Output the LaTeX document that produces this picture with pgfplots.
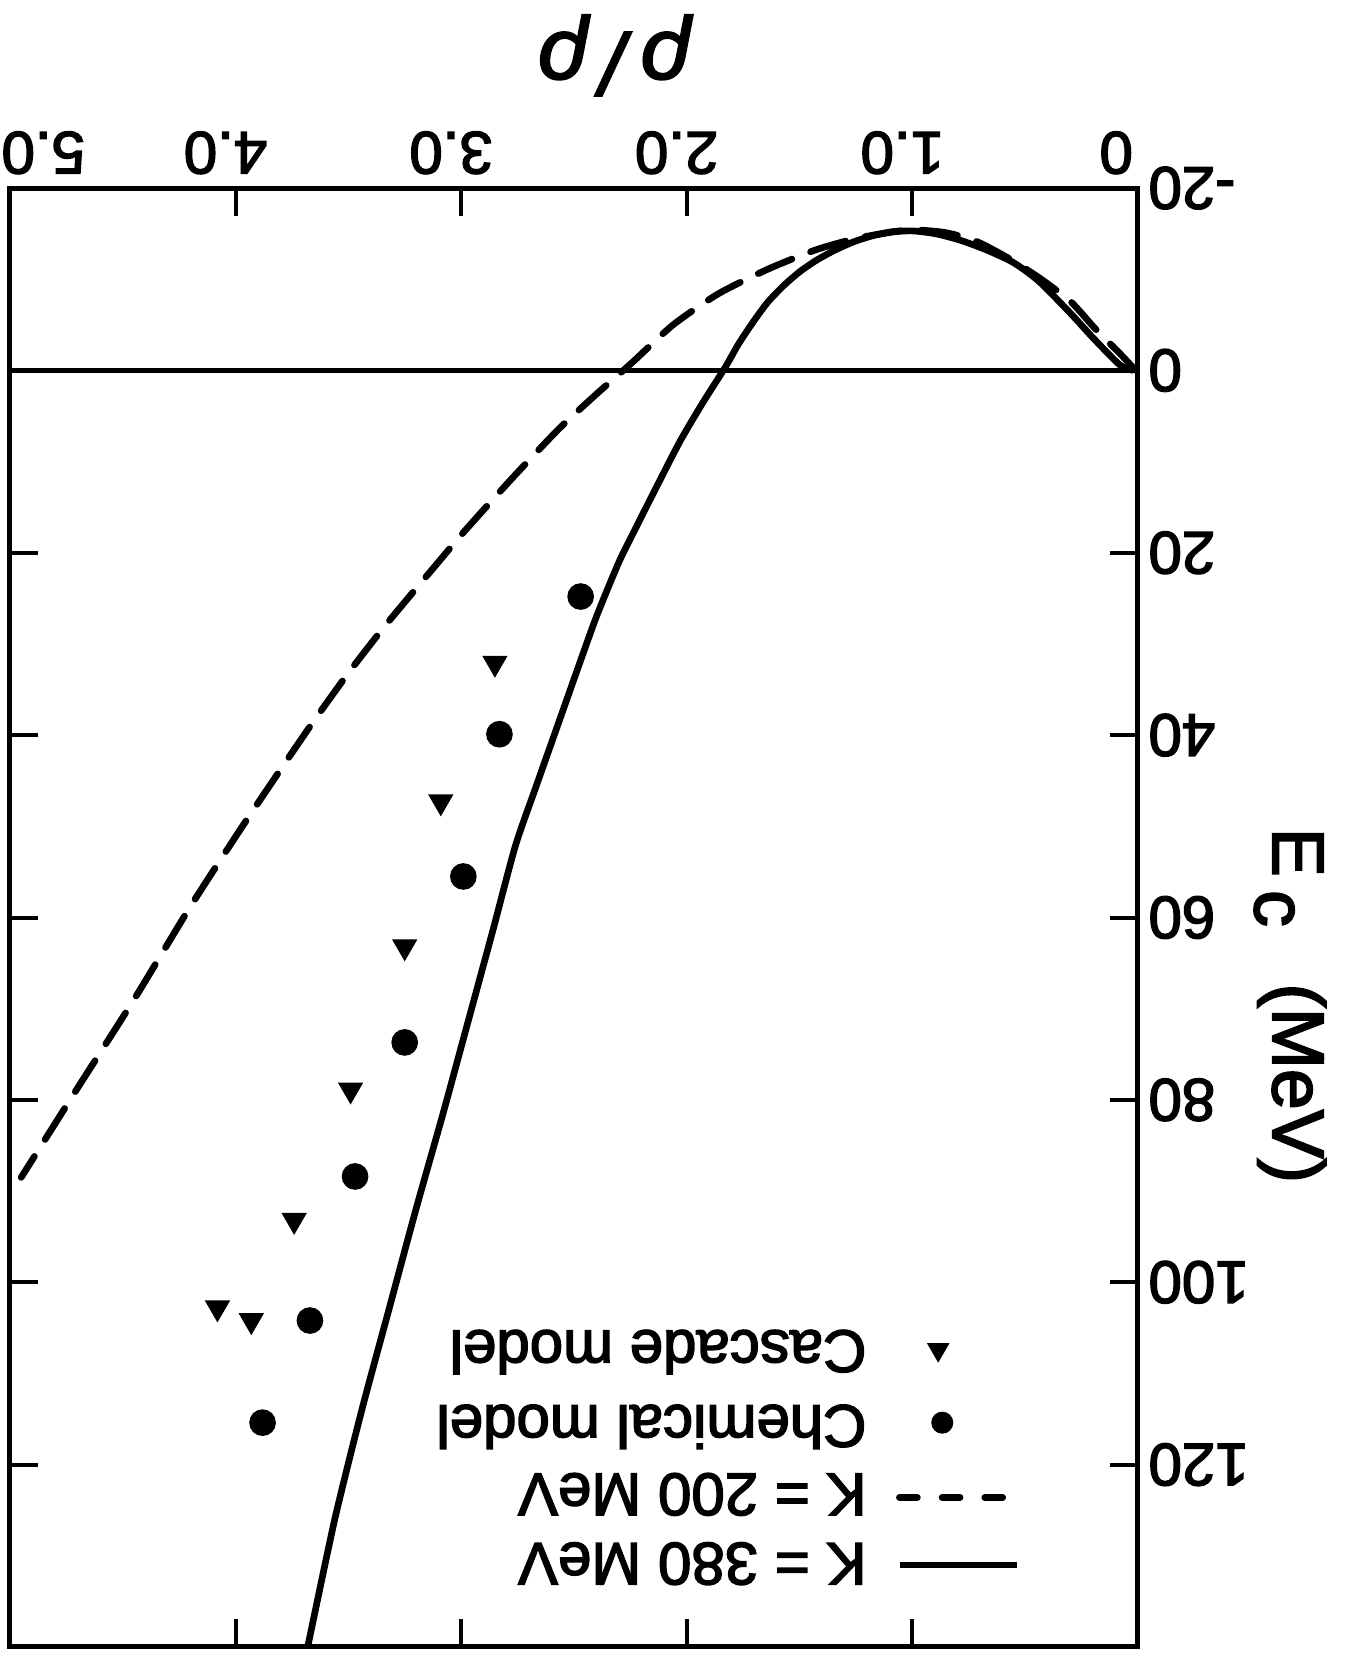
\documentclass[border=0pt]{standalone}
\usepackage{fontspec}
\setmainfont{Liberation Sans}
\newfontfamily\lbl{Liberation Sans}[FakeBold=2.5]
\usepackage{pgfplots}
\pgfplotsset{compat=1.18}
\begin{document}
\begin{tikzpicture}
\begin{axis}[
 width=338.4pt, height=437.7pt, scale only axis,
 xmin=0, xmax=5, ymin=-20, ymax=140,
 x dir=reverse, y dir=reverse,
 clip=false,
 axis line style={line width=1.5pt},
 major tick style={line width=1.2pt, black},
 major tick length=8.5pt,
 tick align=inside,
 xticklabel pos=upper, yticklabel pos=right,
 xtick={0,1,2,3,4}, xticklabels={\hspace{7pt}0,1.0,2.0,3.0,4.0},
 extra x ticks={5}, extra x tick labels={5.0},
 extra x tick style={xticklabel style={xshift=-13pt}},
 ytick={-20,0,20,40,60,80,100,120},
 yticklabels={-20,0,20,40,60,80,100,120},
 xticklabel style={rotate=180, anchor=north, font=\lbl\fontsize{18}{20}\selectfont, inner sep=4pt, xshift=3pt},
 yticklabel style={rotate=180, anchor=east, font=\lbl\fontsize{18}{20}\selectfont, inner xsep=3pt},
]
% zero line
\addplot[line width=1.6pt] coordinates {(0,0) (5,0)};
% K = 380 MeV
\addplot[line width=2pt, line join=round, smooth, tension=0.4] coordinates {
(0.02,0.0) (0.08,-0.6) (0.20,-3.6) (0.30,-6.3) (0.44,-9.8) (0.55,-11.8) (0.67,-13.2) (0.79,-14.3) (0.90,-15.0) (1.00,-15.3) (1.08,-15.2) (1.17,-14.8) (1.26,-14.1) (1.35,-13.1) (1.43,-12.0) (1.50,-10.8) (1.57,-9.3) (1.64,-7.5) (1.70,-5.5) (1.77,-2.9) (1.83,-0.3) (1.93,3.6) (2.03,7.8) (2.13,12.6) (2.23,17.5) (2.30,21.0) (2.40,27.0) (2.49,33.2) (2.58,39.5) (2.67,45.8) (2.76,52.2) (2.86,61.5) (2.97,71.5) (3.08,81.5) (3.20,92.0) (3.32,103.0) (3.44,114.0) (3.56,126.0) (3.68,140.0)};
% K = 200 MeV
\addplot[line width=2pt, dash pattern=on 11pt off 6pt, line cap=round, smooth, tension=0.4] coordinates {
(0.01,0) (0.07,-1.6) (0.19,-4.6) (0.30,-7.6) (0.44,-10.2) (0.58,-12.4) (0.72,-14.2) (0.85,-15.1) (0.98,-15.4) (1.09,-15.2) (1.26,-14.4) (1.43,-13.2) (1.64,-11.1) (1.86,-8.4) (2.06,-5.0) (2.24,-0.9) (2.40,2.6) (2.57,6.5) (2.78,12.0) (2.98,17.5) (3.10,21.0) (3.33,27.8) (3.50,33.2) (3.66,38.7) (3.82,44.5) (3.98,50.4) (4.20,58.8) (4.45,69.0) (4.70,78.7) (4.95,88.5)};
% Chemical model
\addplot[only marks, mark=*, mark size=3.8pt] coordinates {
(2.47,24.8) (2.83,39.9) (2.99,55.5) (3.25,73.7) (3.47,88.4) (3.67,104.2) (3.88,115.4)};
% Cascade model
\addplot[only marks, mark=triangle*, mark size=4pt, mark options={rotate=180}] coordinates {
(2.85,32.1) (3.09,47.3) (3.25,63.2) (3.49,78.9) (3.74,93.2) (3.93,104.2) (4.08,102.8)};
% legend symbols
\addplot[line width=2pt] coordinates {(0.535,131) (1.053,131)};
\addplot[line width=2pt, dash pattern=on 5.4pt off 7.4pt, line cap=round] coordinates {(1.057,123.6) (0.576,123.6)};
\addplot[only marks, mark=*, mark size=3.1pt] coordinates {(0.867,115.4)};
\addplot[only marks, mark=triangle*, mark size=3.5pt, mark options={rotate=180}] coordinates {(0.885,107.4)};
% legend texts
\node[rotate=180, anchor=base west, font=\lbl\fontsize{18}{20}\selectfont, inner sep=0pt] at (axis cs:1.2,105.3) {Cascade model};
\node[rotate=180, anchor=base west, font=\lbl\fontsize{18}{20}\selectfont, inner sep=0pt] at (axis cs:1.2,113.5) {Chemical model};
\node[rotate=180, anchor=base west, font=\lbl\fontsize{18}{20}\selectfont, inner sep=0pt] at (axis cs:1.2,121.0) {K = 200 MeV};
\node[rotate=180, anchor=base west, font=\lbl\fontsize{18}{20}\selectfont, inner sep=0pt] at (axis cs:1.2,128.6) {K = 380 MeV};
% axis labels
\node[rotate=180, anchor=base west, font=\lbl\itshape\fontsize{26}{28}\selectfont, inner sep=0pt] at (axis cs:1.98,-37.0) {ρ\,/\,ρ};
\node[rotate=-90, anchor=base west, font=\lbl\fontsize{22}{24}\selectfont, inner sep=0pt] at (axis cs:-0.598,50.1) {E\hspace{4pt}\raisebox{-5.4pt}{c}\hspace{17pt}(MeV)};
\coordinate (bbA) at (axis cs:5.044,141.32);
\coordinate (bbB) at (axis cs:-0.966,-40.62);
\end{axis}
\pgfresetboundingbox
\path[use as bounding box] (bbA) rectangle (bbB);
\end{tikzpicture}
\end{document}
